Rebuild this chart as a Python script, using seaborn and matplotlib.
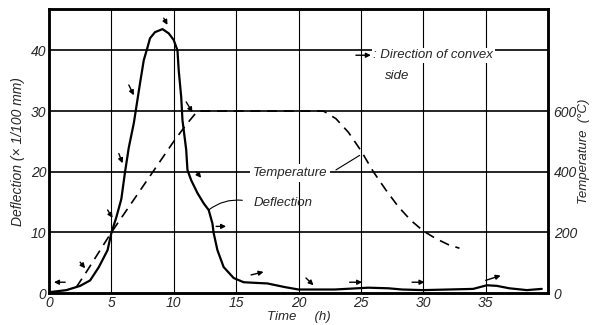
import numpy as np
import pandas as pd
import seaborn as sns
import matplotlib.pyplot as plt

# deflection curve (x 1/100 mm) vs time (h)
defl_time = [0, 0.2, 1.4, 2.5, 3.3, 4.0, 4.7, 5.0, 5.4, 5.8, 6.1, 6.4, 6.8, 7.3, 7.6, 7.9,
             8.1, 8.5, 9.1, 9.6, 10.0, 10.3, 10.4, 10.6, 10.7, 10.8, 11.0, 11.1,
             11.4, 11.9, 12.4, 12.8, 13.1, 13.2, 13.5, 14.0, 14.8, 15.6, 16.5,
             17.5, 18.9, 20.0, 22.9, 25.6, 27.2, 28.3, 30.0, 34.0, 35.1, 35.9,
             36.9, 38.3, 39.5]
defl_value = [0, 0.2, 0.5, 1.2, 2.1, 4.3, 7.1, 9.9, 12.5, 15.5, 20.0, 24.0, 28.0, 34.6, 38.4, 40.5,
              42.0, 43.0, 43.5, 42.8, 41.7, 40.0, 36.7, 32.3, 28.5, 26.9, 23.6, 20.3,
              18.6, 16.5, 14.8, 13.7, 11.5, 9.9, 7.1, 4.3, 2.5, 1.8, 1.7,
              1.6, 1.0, 0.6, 0.6, 0.9, 0.8, 0.6, 0.5, 0.7, 1.3, 1.2,
              0.8, 0.5, 0.7]

# temperature (deg C) vs time (h)
temp_time = [2.2, 3.0, 4.0, 5.0, 6.0, 7.0, 8.0, 9.0, 10.0, 11.0, 11.9, 22.0,
             23.0, 24.0, 25.0, 26.0, 27.0, 28.0, 29.0, 30.0, 31.0, 32.0, 32.9]
temp_value = [20, 70, 135, 200, 260, 320, 380, 440, 500, 555, 600, 600,
              575, 530, 470, 400, 340, 285, 240, 205, 180, 160, 148]

# arrows: direction of convex side (t0, d0, t1, d1)
arrows = [(1.3, 1.8, 0.4, 1.8), (2.5, 5.1, 2.9, 4.1), (4.7, 13.7, 5.1, 12.4),
          (5.6, 23.0, 5.9, 21.4), (6.4, 34.3, 6.8, 32.6), (9.2, 45.3, 9.5, 44.2),
          (11.0, 31.5, 11.5, 29.8), (11.8, 20.0, 12.2, 19.0), (13.4, 11.0, 14.2, 11.0),
          (16.2, 3.0, 17.2, 3.5), (20.6, 2.5, 21.2, 1.3), (24.1, 1.8, 25.1, 1.8),
          (29.1, 1.8, 30.1, 1.8), (35.0, 2.1, 36.2, 2.9)]

x_ticks = [0, 5, 10, 15, 20, 25, 30, 35]
defl_ticks = [0, 10, 20, 30, 40]
temp_ticks = [0, 200, 400, 600]

sns.set_style("white")
plt.rcParams['font.family'] = ['Liberation Sans', 'DejaVu Sans']
plt.rcParams['font.style'] = 'italic'

fig = plt.figure(figsize=(5.97, 3.25), dpi=100)
ax = fig.add_axes([0.082, 0.098, 0.836, 0.874])
ax.set_xlim(0, 40)
ax.set_ylim(0, 46.8)

# grid
for v in x_ticks[1:]:
    ax.axvline(v, color='black', lw=0.8, zorder=1)
for h in defl_ticks[1:]:
    ax.axhline(h, color='black', lw=1.2, zorder=1)

df_d = pd.DataFrame({'time': defl_time, 'deflection': defl_value})
sns.lineplot(data=df_d, x='time', y='deflection', ax=ax, color='black', lw=1.6,
             sort=False, estimator=None, zorder=3)

ax2 = ax.twinx()
ax2.set_ylim(0, 936)
df_t = pd.DataFrame({'time': temp_time, 'temperature': temp_value})
sns.lineplot(data=df_t, x='time', y='temperature', ax=ax2, color='black', lw=1.2,
             sort=False, estimator=None, zorder=3)
ax2.lines[0].set_dashes((6, 4))

arrow_style = dict(arrowstyle='-|>', color='black', lw=1.0, mutation_scale=7,
                   shrinkA=0, shrinkB=0)
for t0, d0, t1, d1 in arrows:
    ax.annotate('', xy=(t1, d1), xytext=(t0, d0), arrowprops=arrow_style, zorder=4)

# legend-like notes
ax.annotate('', xy=(25.8, 39.2), xytext=(24.6, 39.2), arrowprops=arrow_style)
ax.text(26.0, 39.2, ': Direction of convex', fontsize=9.5, va='center', ha='left',
        bbox=dict(facecolor='white', edgecolor='none', pad=1), zorder=5)
ax.text(26.9, 35.8, 'side', fontsize=9.5, va='center', ha='left', zorder=5)

ax.text(19.3, 19.8, 'Temperature', fontsize=9.5, va='center', ha='center',
        bbox=dict(facecolor='white', edgecolor='none', pad=2), zorder=5)
ax.annotate('', xy=(24.9, 22.7), xytext=(23.0, 20.3),
            arrowprops=dict(arrowstyle='-', color='black', lw=0.8, shrinkA=0, shrinkB=0))
ax.text(18.8, 14.8, 'Deflection', fontsize=9.5, va='center', ha='center', zorder=5)
ax.annotate('', xy=(12.8, 13.7), xytext=(15.5, 15.3),
            arrowprops=dict(arrowstyle='-', color='black', lw=0.8, shrinkA=0, shrinkB=0,
                            connectionstyle='arc3,rad=0.2'))

ax.set_xticks(x_ticks)
ax.set_yticks(defl_ticks)
ax2.set_yticks(temp_ticks)
ax.tick_params(length=0, labelsize=10, pad=2)
ax2.tick_params(length=0, labelsize=10, pad=4)
ax.set_xlabel('')
ax2.set_xlabel('')
fig.text(0.5, 0.005, 'Time     (h)', fontsize=9.5, ha='center', va='bottom')
ax.set_ylabel('Deflection (× 1/100 mm)', fontsize=10, labelpad=4)
ax2.set_ylabel('Temperature  (°C)', fontsize=9.5, labelpad=1)

for a in (ax, ax2):
    for s in a.spines.values():
        s.set_color('black')
        s.set_linewidth(1.8)

fig.savefig('out.png', dpi=100)
